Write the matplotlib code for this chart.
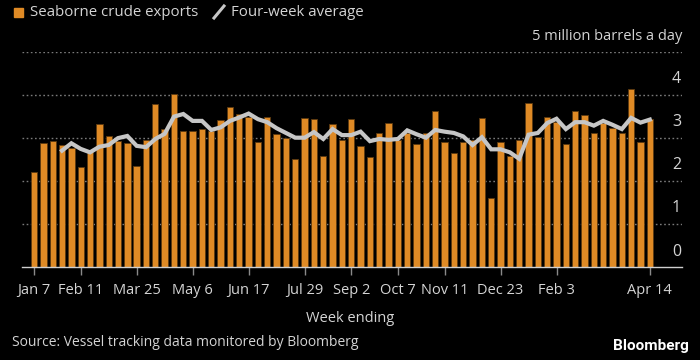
import matplotlib
matplotlib.use("Agg")
import matplotlib.pyplot as plt
from matplotlib.patches import Rectangle
from matplotlib.lines import Line2D

plt.rcParams['font.family'] = ['Open Sans', 'DejaVu Sans']

# weekly seaborne crude exports, million barrels a day
exports = [2.21, 2.89, 2.94, 2.84, 2.78, 2.33, 2.67, 3.33, 3.06, 2.94,
           2.89, 2.36, 2.96, 3.80, 3.21, 4.02, 3.17, 3.17, 3.22, 3.17,
           3.41, 3.72, 3.57, 3.48, 2.92, 3.49, 3.09, 3.01, 2.51, 3.46,
           3.44, 2.59, 3.33, 2.96, 3.44, 2.81, 2.57, 3.11, 3.36, 2.96,
           3.13, 2.87, 3.13, 3.62, 2.91, 2.66, 2.91, 2.96, 3.46, 1.60,
           2.92, 2.59, 2.95, 3.81, 3.02, 3.49, 3.37, 2.87, 3.62, 3.54,
           3.12, 3.35, 3.23, 3.12, 4.14, 2.91, 3.44]

# four-week average, starts at week 4
avg_start = 3
four_week = [2.71, 2.88, 2.75, 2.67, 2.80, 2.84, 3.00, 3.05, 2.82, 2.79,
             2.98, 3.10, 3.50, 3.56, 3.40, 3.40, 3.19, 3.25, 3.40, 3.48,
             3.57, 3.44, 3.37, 3.23, 3.12, 3.01, 3.01, 3.14, 2.98, 3.21,
             3.07, 3.07, 3.15, 2.93, 2.98, 2.96, 2.98, 3.18, 3.09, 3.01,
             3.19, 3.15, 3.12, 3.04, 2.84, 3.02, 2.74, 2.74, 2.67, 2.52,
             3.08, 3.12, 3.35, 3.45, 3.21, 3.37, 3.37, 3.29, 3.40, 3.31,
             3.21, 3.47, 3.36, 3.43]

tick_weeks = [0, 5, 11, 17, 23, 29, 34, 39, 44, 50, 56, 66]
tick_labels = ['Jan 7', 'Feb 11', 'Mar 25', 'May 6', 'Jun 17', 'Jul 29',
               'Sep 2', 'Oct 7', 'Nov 11', 'Dec 23', 'Feb 3', 'Apr 14']

orange = '#df8a25'
grey_line = '#c6c6c6'
txt = '#d4d4d4'

fig = plt.figure(figsize=(7, 3.6), dpi=100, facecolor='black')
W, H = 700.0, 360.0
ax = fig.add_axes([22 / W, 1 - 267.3 / H, 660 / W, (267.3 - 52) / H])
ax.set_facecolor('black')

weeks = list(range(len(exports)))
ax.bar(weeks, exports, width=0.68, color=orange, edgecolor='#5c3a10',
       linewidth=0.6, zorder=2)
ax.plot(weeks[avg_start:], four_week, color=grey_line, lw=3.0,
        solid_joinstyle='miter', zorder=3)

ax.set_xlim(-1.29, 69.45)
ax.set_ylim(0, 5)

# dotted gridlines
for v in range(1, 6):
    ax.axhline(v, color='#7a7a7a', lw=1.0, ls=(0, (1.2, 1.8)), zorder=1)
ax.axhline(0, color='#cfcfcf', lw=1.0, zorder=4, clip_on=False)

for s in ax.spines.values():
    s.set_visible(False)

ax.set_yticks([])
ax.set_xticks(tick_weeks)
ax.set_xticklabels(tick_labels, color=txt, fontsize=10.5)
ax.tick_params(axis='x', length=6, width=1, color='#8a8a8a', pad=5)

# y labels sit above gridlines on the right
for v in range(0, 5):
    ax.text(69.35, v + 0.18, str(v), color=txt, fontsize=11.5, ha='right',
            va='bottom')
ax.text(69.45, 5.18, '5 million barrels a day', color=txt, fontsize=10.5,
        ha='right', va='bottom')

# legend
fig.patches.append(Rectangle((14 / W, 1 - 17 / H), 9 / W, 9 / H,
                             transform=fig.transFigure, color=orange))
fig.text(30 / W, 1 - 12 / H, 'Seaborne crude exports', color=txt,
         fontsize=10.8, va='center')
fig.lines.append(Line2D([214 / W, 224 / W], [1 - 18 / H, 1 - 6 / H],
                        transform=fig.transFigure, color=grey_line, lw=2.2))
fig.text(231 / W, 1 - 12 / H, 'Four-week average', color=txt,
         fontsize=10.8, va='center')

fig.text(350 / W, 1 - 318 / H, 'Week ending', color=txt, fontsize=10.5,
         ha='center', va='center')
fig.text(12 / W, 1 - 343 / H, 'Source: Vessel tracking data monitored by Bloomberg',
         color=txt, fontsize=10, va='center')
fig.text(689 / W, 1 - 346 / H, 'Bloomberg', color='white', fontsize=11,
         fontweight='bold', ha='right', va='center',
         family=['Roboto', 'DejaVu Sans'])

fig.savefig('out.png', dpi=100, facecolor='black')
